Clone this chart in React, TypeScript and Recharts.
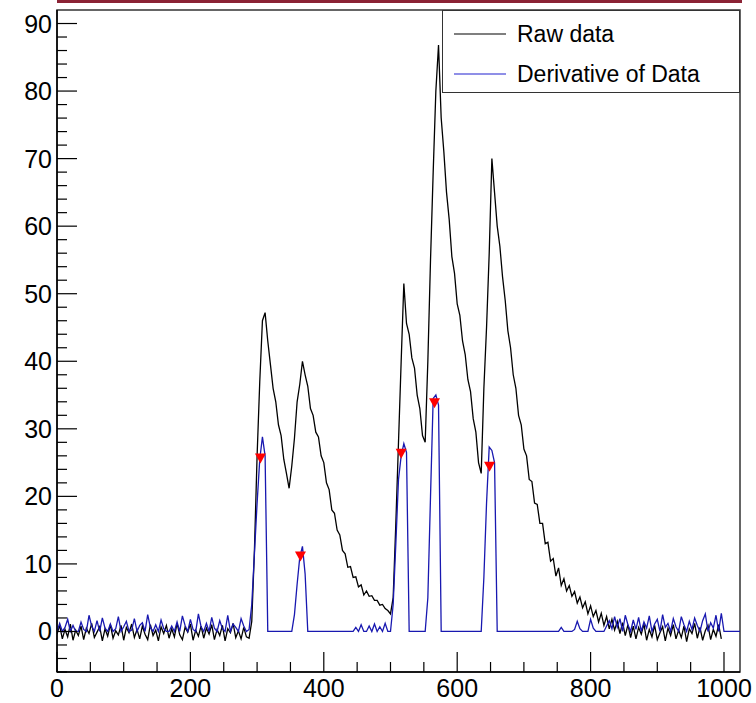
import { ComposedChart, Line, Scatter, XAxis, YAxis, ReferenceArea } from "recharts";

// bin width of the sampled histograms (x units)
const BIN_STEP = 4;

// Raw data, one value per bin starting at x = 0 (rows of 10 bins = 40 units)
const rawCounts = [
  -0.4, 0.9, -1.1, 0.3, -0.8, 1.1, -1.3, 0.2, -0.6, 0.8, // 0
  -1.2, 0.5, -0.3, 1.2, -0.9, -0.1, 0.7, -1.4, 0.4, -0.7, // 40
  1.0, -1.0, 0.1, -0.5, 0.9, -1.3, 0.6, -0.2, 1.1, -0.9, // 80
  0.3, -1.1, 0.8, -0.4, -1.2, 1.0, -0.6, 0.2, -1.4, 0.7, // 120
  -0.3, 0.9, -1.0, 0.4, -0.8, 1.2, -0.5, -1.2, 0.6, -0.1, // 160
  1.1, -1.3, 0.2, -0.7, 0.8, -1.0, 0.5, -0.4, 1.0, -1.2, // 200
  0.3, -0.6, 0.9, -1.4, 0.4, -0.2, 1.2, -0.9, 0.1, -1.1, // 240
  0.6, -0.8, -1.0, 1.5, 12, 26, 37, 46, 47.2, 43, // 280
  39.5, 36, 34, 30.6, 29, 25.5, 23.4, 21.2, 24.5, 28.6, // 320
  34, 36.6, 40, 38, 36.3, 33, 32, 29.5, 28.8, 26, // 360
  25, 22, 21, 18, 17.5, 15, 14.3, 12, 11.5, 9.5, // 400
  9.6, 8, 8.1, 6.6, 6.9, 5.4, 6, 5.2, 5.3, 4.6, // 440
  4.6, 3.9, 4, 3.4, 3.1, 2.6, 5, 16, 28, 40, // 480
  51.5, 45.6, 44, 40.5, 39, 35, 33, 29, 28, 40, // 520
  55, 68, 80, 86.8, 76, 71, 65, 61, 55.5, 53, // 560
  48.5, 46.8, 43, 41, 37.3, 35.5, 31.5, 29.5, 25, 23.4, // 600
  36, 45, 56, 70, 65, 60, 57, 52.5, 49, 44.5, // 640
  42, 38, 36, 32, 30.6, 27, 26, 22.5, 22.2, 19, // 680
  18.8, 16, 16, 13, 13.2, 10.4, 10.8, 8.2, 9.4, 6.8, // 720
  7.8, 6, 6.8, 5.2, 5.9, 4.2, 5.1, 3.5, 4.4, 2.6, // 760
  3.8, 2.2, 3.1, 1.4, 2.7, 0.9, 2.2, 0.4, 1.8, 0.2, // 800
  1.5, -0.3, 1.3, -0.6, 1.0, -0.9, 0.8, -1.1, 0.6, -0.4, // 840
  1.1, -1.3, 0.3, -0.8, 0.9, -1.2, -0.2, 0.7, -1.4, 0.5, // 880
  -0.6, 1.0, -1.1, 0.2, -0.9, 0.8, -1.5, 0.4, -0.3, 1.2, // 920
  -1.0, 0.6, -1.3, 0.1, 0.9, -1.2, 0.3, -0.7, 1.0, -1.1, // 960
];

// Derivative of data (clipped at 0), same bins, runs on to the axis end
const derivCounts = [
  0, 1.2, 0, 0.6, 1.8, 0, 0.9, 0, 0, 1.4, // 0
  0.3, 0, 2.4, 0.8, 0, 1.6, 0, 2.0, 0.5, 0, // 40
  1.1, 0, 0.4, 2.2, 0, 0.7, 1.5, 0, 0.2, 1.9, // 80
  0, 0.9, 1.3, 0, 2.5, 0.6, 0, 1.0, 0, 1.7, // 120
  0.4, 0, 0, 0.8, 0, 1.4, 0, 2.3, 0.9, 0, // 160
  1.8, 0.3, 0, 2.6, 0.7, 0, 1.2, 0, 2.1, 0.5, // 200
  0, 1.6, 0.4, 0, 2.4, 0, 1.1, 0.6, 0, 1.9, // 240
  0.8, 0, 0.3, 4, 11.5, 19, 25.5, 28.8, 26, 0, // 280
  0, 0, 0, 0, 0, 0, 0, 0, 0, 2.5, // 320
  7, 11, 12.6, 8.5, 0, 0, 0, 0, 0, 0, // 360
  0, 0, 0, 0, 0, 0, 0, 0, 0, 0, // 400
  0, 0, 0.6, 0, 1.0, 0, 0, 0.8, 0, 1.1, // 440
  0, 0.7, 0, 1.2, 0, 0, 4, 13, 22.5, 26, // 480
  27.8, 26.5, 0, 0, 0, 0, 0, 0, 0, 5, // 520
  20, 34.5, 35, 33.5, 0, 0, 0, 0, 0, 0, // 560
  0, 0, 0, 0, 0, 0, 0, 0, 0, 0, // 600
  8, 19, 27.3, 26.8, 25, 0, 0, 0, 0, 0, // 640
  0, 0, 0, 0, 0, 0, 0, 0, 0, 0, // 680
  0, 0, 0, 0, 0, 0, 0, 0, 0, 0.6, // 720
  0, 0, 0, 0, 0.3, 1.5, 0.4, 0, 0, 0, // 760
  1.8, 0.5, 0, 0, 0, 0, 0.8, 1.6, 0.4, 2.2, // 800
  0.6, 1.9, 0, 2.4, 1.0, 0, 1.7, 0.3, 2.1, 0, // 840
  1.4, 0.5, 2.3, 0, 1.1, 1.8, 0, 2.5, 0.6, 1.2, // 880
  0, 1.9, 0.7, 0, 2.2, 1.0, 0, 1.5, 0.3, 2.0, // 920
  0.9, 0, 1.6, 2.6, 0, 1.3, 0.5, 2.4, 0, 2.7, // 960
  0, 0, 0, 0, 0, 0, 0, // 1000
];

// peaks found on the derivative (red markers)
const peakX = [305, 365, 516, 566, 648.5];
const peakY = [25.6, 11.1, 26.3, 33.8, 24.4];

const X_DOMAIN: [number, number] = [0, 1024];
const Y_DOMAIN: [number, number] = [-6, 92];
const xTicks = Array.from({ length: 21 }, (_, i) => i * 50);
const yTicks = Array.from({ length: 49 }, (_, i) => -6 + i * 2);

const FONT = "'Liberation Sans', Arial, Helvetica, sans-serif";
const BLUE = "#1818b0";
const TICK_FONT = 25;

const chartData = derivCounts.map((d, i) => ({
  x: i * BIN_STEP,
  raw: i < rawCounts.length ? rawCounts[i] : undefined,
  deriv: d,
}));

const peakData = peakX.map((x, i) => ({ x, y: peakY[i] }));

function YTick(props: any) {
  const { x, y, payload } = props;
  const major = payload.value % 10 === 0;
  return (
    <g>
      <line x1={x} x2={x + (major ? 20 : 10)} y1={y} y2={y} stroke="#000" strokeWidth={1.2} />
      {major && (
        <text x={x - 5} y={y + 9} textAnchor="end" fontSize={TICK_FONT} fontFamily={FONT} fill="#000">
          {payload.value}
        </text>
      )}
    </g>
  );
}

function XTick(props: any) {
  const { x, y, payload } = props;
  const major = payload.value % 200 === 0;
  return (
    <g>
      <line x1={x} x2={x} y1={y} y2={y - (major ? 20 : 10)} stroke="#000" strokeWidth={1.2} />
      {major && (
        <text x={x} y={y + 25} textAnchor="middle" fontSize={TICK_FONT} fontFamily={FONT} fill="#000">
          {payload.value}
        </text>
      )}
    </g>
  );
}

function PeakMarker(props: any) {
  const { cx, cy } = props;
  return <polygon points={`${cx - 5.5},${cy - 5} ${cx + 5.5},${cy - 5} ${cx},${cy + 5}`} fill="#ff0000" />;
}

export default function App() {
  return (
    <div style={{ position: "absolute", left: 0, top: 0, width: 756, height: 703, background: "#fff" }}>
      {/* cropped title bar at the very top */}
      <div style={{ position: "absolute", left: 57, top: 0, width: 685, height: 3, background: "#8b2335" }} />

      <ComposedChart width={756} height={703} data={chartData} margin={{ top: 10, right: 16, bottom: 0, left: 0 }}>
        <XAxis
          type="number"
          dataKey="x"
          domain={X_DOMAIN}
          allowDataOverflow
          ticks={xTicks}
          interval={0}
          height={31}
          tickSize={0}
          tickMargin={0}
          tickLine={false}
          axisLine={{ stroke: "#000", strokeWidth: 1.5 }}
          tick={<XTick />}
        />
        <YAxis
          type="number"
          domain={Y_DOMAIN}
          allowDataOverflow
          ticks={yTicks}
          interval={0}
          width={57}
          tickSize={0}
          tickMargin={0}
          tickLine={false}
          axisLine={{ stroke: "#000", strokeWidth: 1.5 }}
          tick={<YTick />}
        />
        <ReferenceArea
          x1={X_DOMAIN[0]}
          x2={X_DOMAIN[1]}
          y1={Y_DOMAIN[0]}
          y2={Y_DOMAIN[1]}
          fill="none"
          stroke="#333"
          strokeWidth={1.5}
          fillOpacity={0}
        />
        <Line
          type="linear"
          dataKey="raw"
          stroke="#000"
          strokeWidth={1.3}
          dot={false}
          activeDot={false}
          isAnimationActive={false}
        />
        <Line
          type="linear"
          dataKey="deriv"
          stroke={BLUE}
          strokeWidth={1.3}
          dot={false}
          activeDot={false}
          isAnimationActive={false}
        />
        <Scatter data={peakData} dataKey="y" shape={<PeakMarker />} isAnimationActive={false} />
      </ComposedChart>

      {/* legend box, ROOT TLegend style */}
      <div
        style={{
          position: "absolute",
          left: 442,
          top: 10,
          width: 298,
          height: 83,
          boxSizing: "border-box",
          border: "1.5px solid #333",
          background: "#fff",
          fontFamily: FONT,
          fontSize: 23,
        }}
      >
        {[
          { name: "Raw data", color: "#000", top: 23 },
          { name: "Derivative of Data", color: "#2020d0", top: 63 },
        ].map((row) => (
          <div key={row.name} style={{ position: "absolute", left: 0, top: row.top - 14, height: 28, width: "100%" }}>
            <svg style={{ position: "absolute", left: 10, top: 8 }} width={54} height={12}>
              <line x1={1} x2={53} y1={6} y2={6} stroke={row.color} strokeWidth={1.2} />
            </svg>
            <span style={{ position: "absolute", left: 74, top: 0, lineHeight: "28px", whiteSpace: "nowrap", color: "#000" }}>
              {row.name}
            </span>
          </div>
        ))}
      </div>
    </div>
  );
}
